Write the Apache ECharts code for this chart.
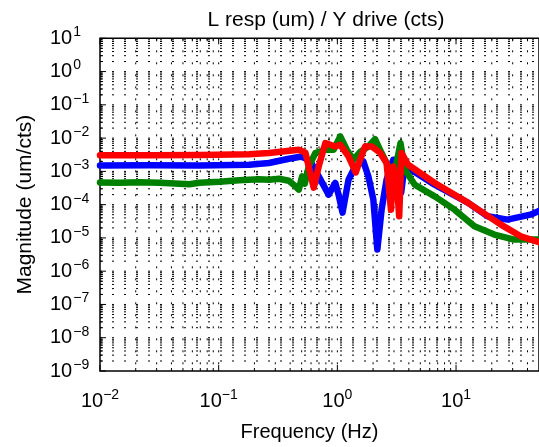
<!DOCTYPE html>
<html>
<head>
<meta charset="utf-8">
<script src="https://cdn.jsdelivr.net/npm/echarts@6/dist/echarts.min.js"></script>
<style>
html, body { margin: 0; padding: 0; background: #fff; }
#chart { width: 539px; height: 447px; }
</style>
</head>
<body>
<div id="chart"></div>
<script>
// values: frequency (Hz), magnitude (um/cts)
const blueFreq = [0.01, 0.02623, 0.06879, 0.1804, 0.2653, 0.3904, 0.5014, 0.5929, 0.696, 0.8439, 0.9603, 1.0235, 1.1054, 1.2412, 1.4123, 1.6573, 1.8253, 2.0102, 2.1714, 2.3591, 2.598, 2.9568, 3.1324, 3.3186, 3.449, 3.7047, 4.1826, 6.607, 12.56, 18.46, 27.15, 42.3, 50];
const blueMag = [1.51e-3, 1.53e-3, 1.50e-3, 1.58e-3, 1.78e-3, 2.40e-3, 2.81e-3, 1.99e-3, 7.06e-4, 2.0e-4, 4.48e-4, 2.0e-4, 5.75e-5, 5.62e-4, 1.41e-3, 1.99e-3, 7.06e-4, 1.41e-4, 4.47e-6, 7.08e-5, 5.62e-4, 2.24e-3, 2.24e-3, 5.62e-4, 2.29e-4, 1.82e-3, 1.12e-3, 3.98e-4, 1.15e-4, 4.46e-5, 3.55e-5, 5.0e-5, 6.5e-5];

const greenFreq = [0.01, 0.01471, 0.02163, 0.0318, 0.04677, 0.0567, 0.06879, 0.1012, 0.1488, 0.2188, 0.2653, 0.3218, 0.3904, 0.4381, 0.4732, 0.5043, 0.5313, 0.5738, 0.6528, 0.7919, 0.9294, 1.0575, 1.2013, 1.367, 1.5647, 1.8253, 2.0771, 2.3591, 2.6846, 3.0146, 3.4028, 3.7047, 4.4918, 6.607, 9.714, 14.29, 21.01, 30.9, 50];
const greenMag = [4.67e-4, 4.57e-4, 4.73e-4, 4.57e-4, 4.27e-4, 4.12e-4, 4.57e-4, 4.90e-4, 5.43e-4, 5.82e-4, 5.62e-4, 6.03e-4, 5.25e-4, 3.72e-4, 2.82e-4, 7.06e-4, 4.27e-4, 1.41e-3, 3.56e-3, 4.47e-3, 4.47e-3, 1.12e-2, 4.47e-3, 2.24e-3, 3.89e-3, 5.61e-3, 9.35e-3, 3.56e-3, 1.41e-3, 7.94e-4, 7.1e-3, 1.12e-3, 3.98e-4, 1.77e-4, 7.08e-5, 2.23e-5, 1.26e-5, 8.9e-6, 8.9e-6];

const redFreq = [0.01, 0.02623, 0.06879, 0.1804, 0.2653, 0.4732, 0.5385, 0.632, 0.696, 0.7919, 0.872, 0.9603, 1.0575, 1.2412, 1.4287, 1.5548, 1.7127, 1.9451, 2.2874, 2.598, 2.8283, 2.9568, 3.1504, 3.3186, 3.4692, 3.948, 6.607, 12.56, 23.86, 35.1, 50];
const redMag = [3.05e-3, 3.05e-3, 3.10e-3, 3.27e-3, 3.56e-3, 4.47e-3, 3.63e-3, 3.24e-4, 1.41e-3, 7.1e-3, 6.31e-3, 5.61e-3, 6.31e-3, 2.81e-3, 9.3e-4, 2.24e-3, 5.61e-3, 5.61e-3, 3.63e-3, 1.78e-3, 7.08e-5, 1.41e-3, 5.62e-4, 4.46e-5, 3.56e-3, 1.58e-3, 4.48e-4, 1.15e-4, 2.51e-5, 1.12e-5, 7.5e-6];

// axis range and decade labels
const xMin = 0.01, xMax = 50, yMin = 1e-9, yMax = 10;
const xDecades = [-2, -1, 0, 1];
const yDecades = [-9, -8, -7, -6, -5, -4, -3, -2, -1, 0];

const font = 'Liberation Sans, Arial, Helvetica, sans-serif';

const zip = (fs, ms) => fs.map((f, i) => [f, ms[i]]);

const pow10 = (v) => {
    const e = Math.round(Math.log10(v));
    return '{b|10}{e|' + (e < 0 ? '\u2212' + (-e) : e) + '}';
};

// dotted grid and ticks at 1..9 x 10^n  ([x, y, major])
let xTicks = [];
let yTicks = [];
xDecades.forEach(n => {
    for (let k = 1; k <= 9; k++) {
        const v = k * Math.pow(10, n);
        if (v >= xMax) continue;
        xTicks.push([v, yMin, k == 1 ? 1 : 0]);
    }
});
yDecades.forEach(n => {
    for (let k = 1; k <= 9; k++) {
        yTicks.push([xMin, k * Math.pow(10, n), k == 1 ? 1 : 0]);
    }
});
yTicks.push([xMin, yMax, 1]);

const tickStyle = { stroke: '#000', lineWidth: 1 };
const dotStyle = { stroke: '#000', lineWidth: 1, lineDash: [2, 10] };

const myChart = echarts.init(document.getElementById('chart'));
const option = {
    backgroundColor: '#fff',
    animation: false,
    title: {
        text: 'L resp (um) / Y drive (cts)',
        left: 321,
        top: 5,
        textAlign: 'center',
        textStyle: { fontSize: 21, fontWeight: 'normal', color: '#000', fontFamily: font }
    },
    grid: {
        left: 100,
        top: 38.3,
        width: 441.6,
        height: 333.4,
        show: true,
        borderColor: '#000',
        borderWidth: 1.5,
        backgroundColor: '#fff'
    },
    xAxis: {
        type: 'log',
        min: xMin,
        max: xMax,
        splitNumber: 4,
        name: 'Frequency (Hz)',
        nameLocation: 'middle',
        nameGap: 51,
        nameTextStyle: { fontSize: 20, color: '#000', fontFamily: font, padding: [0, 20, 0, 0] },
        axisLine: { show: false },
        axisTick: { show: false },
        splitLine: { show: false },
        axisLabel: {
            formatter: pow10,
            margin: 17,
            showMaxLabel: false,
            rich: {
                b: { fontSize: 20, color: '#000', fontFamily: font },
                e: { fontSize: 14, color: '#000', fontFamily: font, padding: [0, 0, 12, 0] }
            }
        }
    },
    yAxis: {
        type: 'log',
        min: yMin,
        max: yMax,
        splitNumber: 10,
        name: 'Magnitude (um/cts)',
        nameLocation: 'middle',
        nameRotate: 90,
        nameGap: 64,
        nameTextStyle: { fontSize: 21, color: '#000', fontFamily: font },
        axisLine: { show: false },
        axisTick: { show: false },
        splitLine: { show: false },
        axisLabel: {
            formatter: pow10,
            margin: 50,
            align: 'left',
            rich: {
                b: { fontSize: 20, color: '#000', fontFamily: font },
                e: { fontSize: 14, color: '#000', fontFamily: font, padding: [0, 0, 12, 1] }
            }
        }
    },
    series: [
        {
            // vertical dotted grid + x ticks (bottom and top)
            type: 'custom',
            data: xTicks,
            encode: { x: 0, y: 1 },
            z: 3,
            silent: true,
            renderItem: (params, api) => {
                const v = api.value(0);
                const len = api.value(2) ? 6 : 3;
                const b = api.coord([v, yMin]);
                const t = api.coord([v, yMax]);
                const children = [
                    { type: 'line', shape: { x1: b[0], y1: b[1], x2: b[0], y2: b[1] - len }, style: tickStyle },
                    { type: 'line', shape: { x1: t[0], y1: t[1], x2: t[0], y2: t[1] + len }, style: tickStyle }
                ];
                if (v > xMin) {
                    children.push({ type: 'line', z2: -1, shape: { x1: b[0], y1: t[1], x2: b[0], y2: b[1] }, style: dotStyle });
                }
                return { type: 'group', children: children };
            }
        },
        {
            // horizontal dotted grid + y ticks (left)
            type: 'custom',
            data: yTicks,
            encode: { x: 0, y: 1 },
            z: 3,
            silent: true,
            renderItem: (params, api) => {
                const v = api.value(1);
                const len = api.value(2) ? 6 : 3;
                const p = api.coord([xMin, v]);
                const q = api.coord([xMax, v]);
                const children = [
                    { type: 'line', shape: { x1: p[0], y1: p[1], x2: p[0] + len, y2: p[1] }, style: tickStyle }
                ];
                if (v > yMin * 1.001 && v < yMax * 0.999) {
                    children.push({ type: 'line', z2: -1, shape: { x1: p[0], y1: p[1], x2: q[0], y2: p[1] }, style: dotStyle });
                }
                return { type: 'group', children: children };
            }
        },
        {
            name: 'blue',
            type: 'line',
            data: zip(blueFreq, blueMag),
            showSymbol: false,
            symbol: 'none',
            z: 4,
            lineStyle: { color: '#0000ff', width: 6.5, join: 'round', cap: 'round' }
        },
        {
            name: 'green',
            type: 'line',
            data: zip(greenFreq, greenMag),
            showSymbol: false,
            symbol: 'none',
            z: 5,
            lineStyle: { color: '#008000', width: 6.5, join: 'round', cap: 'round' }
        },
        {
            name: 'red',
            type: 'line',
            data: zip(redFreq, redMag),
            showSymbol: false,
            symbol: 'none',
            z: 6,
            lineStyle: { color: '#ff0000', width: 6.5, join: 'round', cap: 'round' }
        }
    ]
};
myChart.setOption(option);
window.addEventListener('resize', () => {
    myChart.resize();
});
</script>
</body>
</html>
